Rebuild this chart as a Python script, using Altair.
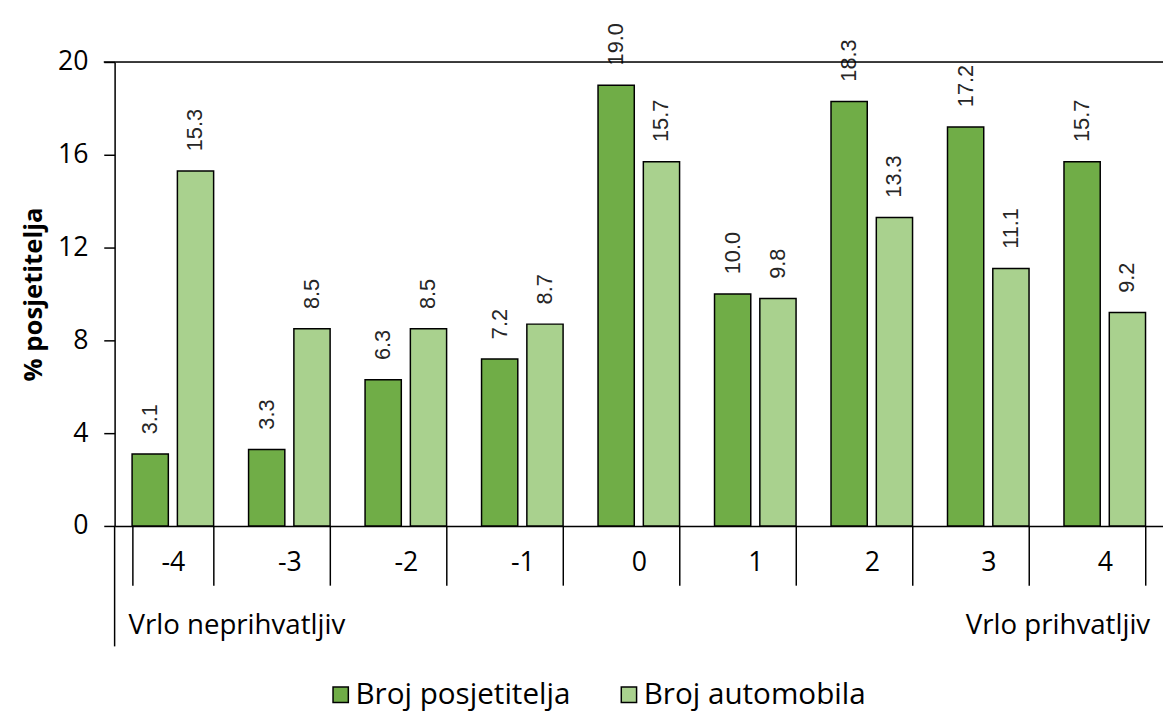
import altair as alt
import pandas as pd

categories = ["-4", "-3", "-2", "-1", "0", "1", "2", "3", "4"]
broj_posjetitelja = [3.1, 3.3, 6.3, 7.2, 19.0, 10.0, 18.3, 17.2, 15.7]
broj_automobila = [15.3, 8.5, 8.5, 8.7, 15.7, 9.8, 13.3, 11.1, 9.2]
series = ["Broj posjetitelja", "Broj automobila"]
colors = ["#70AD47", "#A9D18E"]
y_ticks = [0, 4, 8, 12, 16, 20]

rows = []
for c, a, b in zip(categories, broj_posjetitelja, broj_automobila):
    rows.append({"cat": c, "series": series[0], "value": a})
    rows.append({"cat": c, "series": series[1], "value": b})
df = pd.DataFrame(rows)
one = pd.DataFrame({"k": [0]})

W, H = 1062, 470
FONT = "Open Sans"

x = alt.X("cat:N", sort=categories,
          scale=alt.Scale(paddingInner=0.3, paddingOuter=0.15),
          axis=alt.Axis(title=None, labelAngle=0, labelFontSize=27, labelFont=FONT,
                        labelColor="black", tickBand="extent", tickSize=60,
                        tickColor="black", tickWidth=1.5, domainColor="black",
                        domainWidth=1.5, labelPadding=-36, labelBaseline="top"))
xo = alt.XOffset("series:N", sort=series, scale=alt.Scale(paddingInner=0.2))
y = alt.Y("value:Q", scale=alt.Scale(domain=[0, 20], nice=False),
          axis=alt.Axis(values=y_ticks, title="% posjetitelja", titleFontSize=26,
                        titleFont=FONT, titleFontWeight="bold", titleColor="black",
                        titlePadding=11, labelFontSize=27, labelFont=FONT,
                        labelColor="black", labelPadding=16, tickSize=11,
                        tickColor="black", tickWidth=1.5, domainColor="black",
                        domainWidth=1.5, grid=False))

base = alt.Chart(df)

bars = base.mark_bar(stroke="black", strokeWidth=1.5).encode(
    x=x, xOffset=xo, y=y,
    color=alt.Color("series:N", sort=series,
                    scale=alt.Scale(domain=series, range=colors),
                    legend=alt.Legend(title=None, orient="none", legendX=214, legendY=626,
                                      direction="horizontal", symbolType="square",
                                      symbolSize=240, symbolStrokeColor="black",
                                      symbolStrokeWidth=1.5, symbolOpacity=1,
                                      labelFontSize=30, labelFont=FONT, labelColor="black",
                                      labelLimit=0, columnPadding=44, labelOffset=0)),
)

labels = base.mark_text(angle=270, align="left", baseline="middle", dx=20,
                        fontSize=22, font="Liberation Sans", color="#262626").encode(
    x=alt.X("cat:N", sort=categories), xOffset=alt.XOffset("series:N", sort=series),
    y="value:Q", text=alt.Text("value:Q", format=".1f"),
)

single = alt.Chart(one)
top_rule = single.mark_rule(color="black", strokeWidth=1.5).encode(
    y=alt.datum(20), x=alt.value(-11), x2=alt.value(W))

axis_ext = single.mark_rule(color="black", strokeWidth=1.5).encode(
    x=alt.value(0), y=alt.value(H), y2=alt.value(H + 122))

left_note = single.mark_text(align="left", baseline="middle", fontSize=28, font=FONT,
                             fontWeight="normal", color="black").encode(
    x=alt.value(14), y=alt.value(H + 101), text=alt.value("Vrlo neprihvatljiv"))
right_note = single.mark_text(align="right", baseline="middle", fontSize=28, font=FONT,
                              fontWeight="normal", color="black").encode(
    x=alt.value(1049), y=alt.value(H + 101), text=alt.value("Vrlo prihvatljiv"))

chart = alt.layer(bars, labels, top_rule, axis_ext, left_note, right_note).properties(
    width=W, height=H,
    autosize=alt.AutoSizeParams(type="none"),
    padding={"left": 108, "top": 50, "right": 0, "bottom": 200},
).configure_view(stroke=None).configure(background="white")

chart.save("out.html", embed_options={"renderer": "svg", "actions": False})
